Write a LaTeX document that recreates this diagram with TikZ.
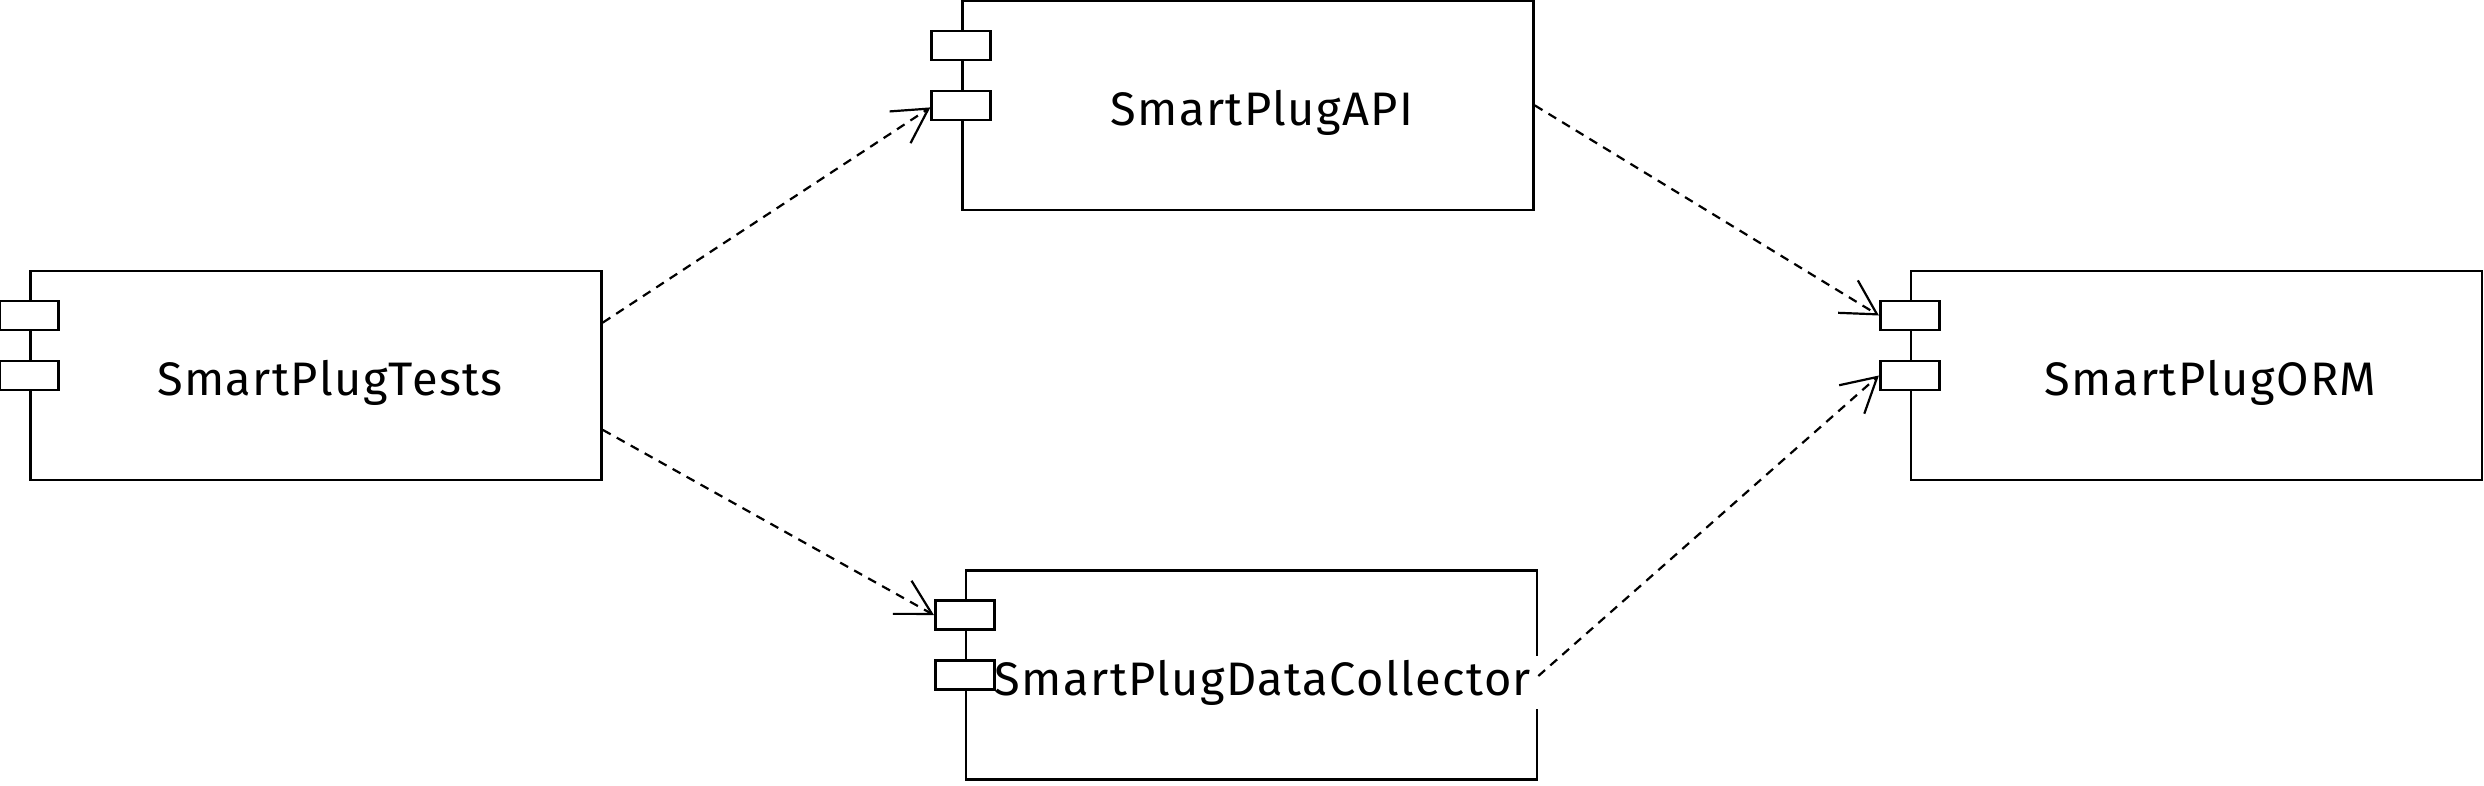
\documentclass[tikz,border=0pt]{standalone}
\usepackage{fontspec}
\setmainfont[LetterSpace=3]{Fira Sans}
\usetikzlibrary{arrows.meta,calc}
\begin{document}
\begin{tikzpicture}[x=1pt,y=-1pt,
  comp/.style={draw,line width=2.6pt,inner sep=0pt,minimum width=571pt,minimum height=209pt},
  port/.style={draw,fill=white,line width=2.6pt,inner sep=0pt,minimum width=59pt,minimum height=29pt},
  lbl/.style={font=\fontsize{47}{56}\selectfont,inner sep=0pt,anchor=base},
  dep/.style={line width=2.2pt,dash pattern=on 9pt off 7pt,-{Straight Barb[length=34pt,width=38pt]}}]
\useasboundingbox (0,0) rectangle (2484,786);
% components
\node[comp] (tests) at (316,375.5) {};
\node[comp] (api) at (1248,105.4) {};
\node[comp] (dc) at (1251.5,675) {};
\node[comp] (orm) at (2196.5,375.5) {};
% labels
\node[lbl] (ttests) at ($(tests.center)+(14,20)$) {SmartPlugTests};
\node[lbl] (tapi) at ($(api.center)+(14,20)$) {SmartPlugAPI};
\node[lbl] (torm) at ($(orm.center)+(14,20)$) {SmartPlugORM};
\node[lbl,anchor=base east,fill=white,inner xsep=9pt,inner ysep=4pt] (tdc) at ($(dc.east)+(2,20)$) {SmartPlugDataCollector};
% ports
\node[port] (tests1) at ($(tests.west)+(0,-60)$) {};
\node[port] (tests2) at (tests.west) {};
\node[port] (api1) at ($(api.west)+(0,-60)$) {};
\node[port] (api2) at (api.west) {};
\node[port] (dc1) at ($(dc.west)+(0,-60)$) {};
\node[port] (dc2) at (dc.west) {};
\node[port] (orm1) at ($(orm.west)+(0,-60)$) {};
\node[port] (orm2) at (orm.west) {};
% dependencies
\draw[dep] ($(tests.north east)!0.25!(tests.south east)$) -- ($(api2.west)+(0,2)$);
\draw[dep] ($(tests.north east)!0.757!(tests.south east)$) -- (dc1.west);
\draw[dep] (api.east) -- (orm1.west);
\draw[dep] ($(dc.east)+(0,1)$) -- (orm2.west);
\end{tikzpicture}
\end{document}
